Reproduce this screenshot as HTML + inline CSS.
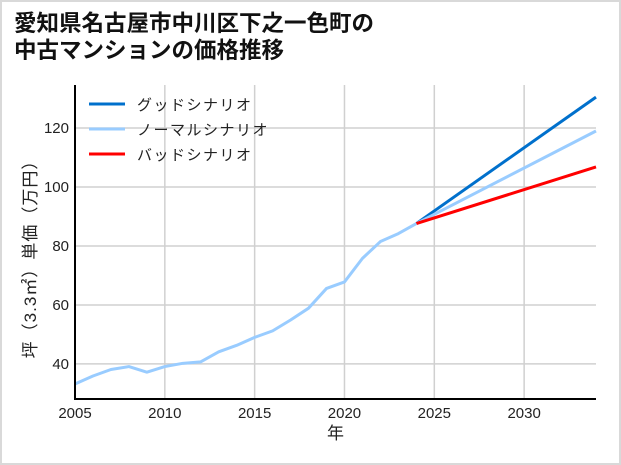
<!DOCTYPE html>
<html><head><meta charset="utf-8"><style>
body{margin:0;background:#fff}
#wrap{position:relative;width:617px;height:461px;border:2px solid #d9d9d9;background:#fff;font-family:"Liberation Sans","Noto Sans CJK JP",sans-serif}
svg{position:absolute;left:-2px;top:-2px}
</style></head><body>
<div id="wrap">
<svg id="chart" width="621" height="465">
<text x="14" y="31" font-size="22.5" font-weight="bold" fill="#111" font-family="Liberation Sans, Noto Sans CJK JP, sans-serif">愛知県名古屋市中川区下之一色町の</text>
<text x="14" y="58" font-size="22.5" font-weight="bold" fill="#111" font-family="Liberation Sans, Noto Sans CJK JP, sans-serif">中古マンションの価格推移</text>
<g id="grid"></g><g id="lines"></g><g id="axes"></g><g id="legend"></g>
</svg>
</div>
<script>
const years=[2005,2006,2007,2008,2009,2010,2011,2012,2013,2014,2015,2016,2017,2018,2019,2020,2021,2022,2023,2024];
const prices=[33.2,35.9,38.1,39.1,37.2,39.1,40.2,40.7,44.1,46.3,49.0,51.2,54.9,58.9,65.6,67.8,75.8,81.5,84.2,87.6];
const scenarioYears=[2024,2034];
const goodValues=[87.6,130.5];
const normalValues=[87.6,119.0];
const badValues=[87.6,106.8];
const xTicks=[2005,2010,2015,2020,2025,2030];
const yTicks=[40,60,80,100,120];
const legendLabels=["グッドシナリオ","ノーマルシナリオ","バッドシナリオ"];
const legendColors=["#0070cc","#99ccff","#ff0000"];

const L=75,R=596,T=85,B=399,x0=2005,x1=2034,y0=28.1,y1=134.6;
const sx=v=>L+(v-x0)/(x1-x0)*(R-L);
const sy=v=>B-(v-y0)/(y1-y0)*(B-T);
const NS="http://www.w3.org/2000/svg";
function mk(tag,attrs,parent){const e=document.createElementNS(NS,tag);for(const k in attrs)e.setAttribute(k,attrs[k]);parent.appendChild(e);return e;}
const grid=document.getElementById('grid'),lines=document.getElementById('lines'),axes=document.getElementById('axes'),legend=document.getElementById('legend');
const ff="Liberation Sans, Noto Sans CJK JP, sans-serif";
xTicks.forEach(t=>{
 const g=mk('line',{x1:sx(t),x2:sx(t),y1:T,y2:B,stroke:'#d0d0d0','stroke-width':1.5},grid);
 
 
 const tx=mk('text',{x:sx(t),y:B+19,'text-anchor':'middle','font-size':15,fill:'#222','font-family':ff},axes);
 tx.textContent=t;
 
 
});
yTicks.forEach(t=>{
 const g=mk('line',{x1:L,x2:R,y1:sy(t),y2:sy(t),stroke:'#d0d0d0','stroke-width':1.5},grid);
 
 
 const tx=mk('text',{x:L-6,y:sy(t)+5,'text-anchor':'end','font-size':15,fill:'#222','font-family':ff},axes);
 tx.textContent=t;
 
 
});
function path(xs,ys,color,name){
 const d=xs.map((x,i)=>(i?'L':'M')+sx(x)+','+sy(ys[i])).join(' ');
 const p=mk('path',{d:d,fill:'none',stroke:color,'stroke-width':3,'stroke-linejoin':'round'},lines);
 
 
}
path(scenarioYears,goodValues,legendColors[0],'good-scenario-line');
path(scenarioYears,normalValues,legendColors[1],'normal-scenario-line');
path(scenarioYears,badValues,legendColors[2],'bad-scenario-line');
path(years,prices,'#99ccff','historical-price-line');
const ya=mk('line',{x1:L,x2:L,y1:T,y2:B+1,stroke:'#000','stroke-width':2},axes);


const xa=mk('line',{x1:L-1,x2:R,y1:B,y2:B,stroke:'#000','stroke-width':2},axes);


const xt=mk('text',{x:(L+R)/2,y:B+40,'text-anchor':'middle','font-size':17,fill:'#222','font-family':ff},axes);
xt.textContent='年';


const yt=mk('text',{x:0,y:0,'text-anchor':'middle','font-size':17,'letter-spacing':1,fill:'#222','font-family':ff,transform:'translate(36,'+((T+B)/2+13)+') rotate(-90)'},axes);
yt.textContent='坪（3.3㎡）単価（万円）';


legendLabels.forEach((lab,i)=>{
 const y=104+i*25;
 const ln=mk('line',{x1:89,x2:125,y1:y,y2:y,stroke:legendColors[i],'stroke-width':3},legend);
 
 
 const t=mk('text',{x:137,y:y+6,'font-size':15,'letter-spacing':1.5,fill:'#222','font-family':ff},legend);
 t.textContent=lab;
 
 
});
</script>
</body></html>
